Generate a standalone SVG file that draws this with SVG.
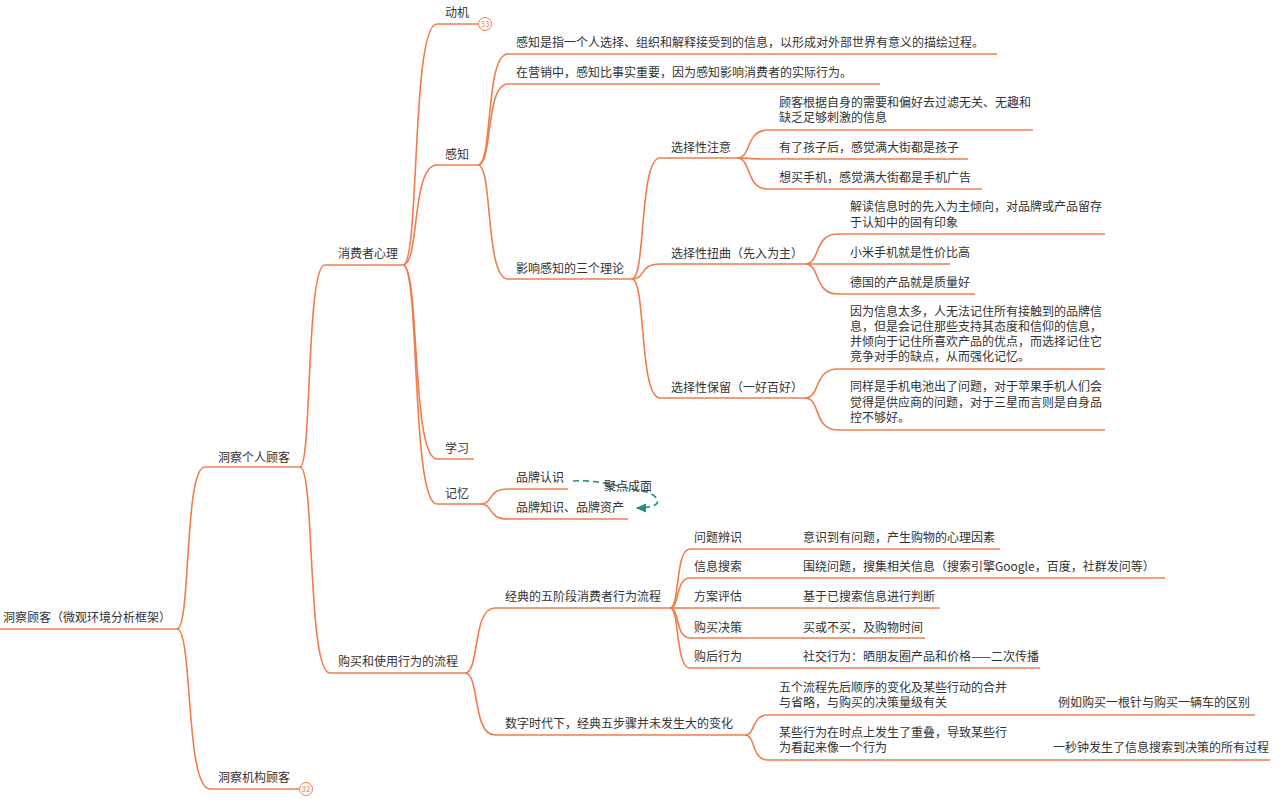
<svg xmlns="http://www.w3.org/2000/svg" width="1280" height="811" viewBox="0 0 1280 811">
<style>
text{font-family:"Noto Sans CJK SC","Liberation Sans",sans-serif;font-size:12px;fill:#333}
.l{stroke:#ef7d4f;stroke-width:1.6;fill:none}
.b{fill:#fff;stroke:#ef7d4f;stroke-width:1}
.bt{font-size:8px;fill:#ef7d4f;text-anchor:middle}
.d{stroke:#1f8f7e;stroke-width:1.6;fill:none;stroke-dasharray:6 4}
</style>
<defs><marker id="ah" viewBox="0 0 10 10" refX="8" refY="5" markerWidth="7" markerHeight="7" orient="auto"><path d="M0,1 L9,5 L0,9 z" fill="#1f8f7e"/></marker></defs>
<rect width="1280" height="811" fill="#fff"/>
<g id="connectors">
<path class="l" d="M177,629 C191,629 184,467 205,467"/>
<path class="l" d="M177,629 C193,629 185,789 210,789"/>
<path class="l" d="M300,467 C312,467 306,265 325,265"/>
<path class="l" d="M300,467 C315,467 307,673 330,673"/>
<path class="l" d="M403,265 C420,265 411,24 437,24"/>
<path class="l" d="M403,265 C420,265 411,165 437,165"/>
<path class="l" d="M403,265 C420,265 411,459 437,459"/>
<path class="l" d="M403,265 C420,265 411,504 437,504"/>
<path class="l" d="M478,165 C493,165 485,54 508,54"/>
<path class="l" d="M478,165 C493,165 485,84 508,84"/>
<path class="l" d="M478,165 C493,165 485,279 508,279"/>
<path class="l" d="M632,279 C646,279 639,158 660,158"/>
<path class="l" d="M632,279 C646,279 639,264 660,264"/>
<path class="l" d="M632,279 C646,279 639,398 660,398"/>
<path class="l" d="M737,158 C752,158 745,130 768,130"/>
<path class="l" d="M737,158 C752,158 745,159 768,159"/>
<path class="l" d="M737,158 C752,158 745,189 768,189"/>
<path class="l" d="M805,264 C821,264 813,234 838,234"/>
<path class="l" d="M805,264 L838,264"/>
<path class="l" d="M805,264 C821,264 813,294 838,294"/>
<path class="l" d="M805,398 C821,398 813,369 838,369"/>
<path class="l" d="M805,398 C821,398 813,430 838,430"/>
<path class="l" d="M480,504 C494,504 487,489 508,489"/>
<path class="l" d="M480,504 C494,504 487,519 508,519"/>
<path class="l" d="M465,673 C480,673 472,608 495,608"/>
<path class="l" d="M465,673 C480,673 472,735 495,735"/>
<path class="l" d="M670,608 C680,608 675,549 690,549"/>
<path class="l" d="M670,608 C680,608 675,578 690,578"/>
<path class="l" d="M670,608 L690,608"/>
<path class="l" d="M670,608 C680,608 675,638 690,638"/>
<path class="l" d="M670,608 C680,608 675,668 690,668"/>
<path class="l" d="M745,735 C756,735 751,715 768,715"/>
<path class="l" d="M745,735 C756,735 751,760 768,760"/>
<path class="d" d="M573,481 C600,479 625,489 648,492 C664,500 660,508 637,508" marker-end="url(#ah)"/>
</g>
<g id="root"><text x="3" y="622">洞察顾客（微观环境分析框架）</text><path class="l" d="M0,629 H177"/></g>
<g id="n-geren"><text x="218" y="462">洞察个人顾客</text><path class="l" d="M205,467 H300"/></g>
<g id="n-jigou"><text x="218" y="782">洞察机构顾客</text><path class="l" d="M210,789 H300"/><circle class="b" cx="306" cy="789" r="6.5"/><text class="bt" x="306" y="792">32</text></g>
<g id="n-xinli"><text x="338" y="258">消费者心理</text><path class="l" d="M325,265 H403"/></g>
<g id="n-goumai"><text x="338" y="666">购买和使用行为的流程</text><path class="l" d="M330,673 H465"/></g>
<g id="n-dongji"><text x="445" y="17">动机</text><path class="l" d="M437,24 H478"/><circle class="b" cx="485" cy="24" r="6.5"/><text class="bt" x="485" y="27">33</text></g>
<g id="n-ganzhi"><text x="445" y="159">感知</text><path class="l" d="M437,165 H478"/></g>
<g id="n-xuexi"><text x="445" y="453">学习</text><path class="l" d="M437,459 H474"/></g>
<g id="n-jiyi"><text x="445" y="498">记忆</text><path class="l" d="M437,504 H480"/></g>
<g id="n-g1"><text x="516" y="47">感知是指一个人选择、组织和解释接受到的信息，以形成对外部世界有意义的描绘过程。</text><path class="l" d="M508,54 H997"/></g>
<g id="n-g2"><text x="516" y="77">在营销中，感知比事实重要，因为感知影响消费者的实际行为。</text><path class="l" d="M508,84 H880"/></g>
<g id="n-g3"><text x="516" y="273">影响感知的三个理论</text><path class="l" d="M508,279 H632"/></g>
<g id="n-zhuyi"><text x="671" y="152">选择性注意</text><path class="l" d="M660,158 H737"/></g>
<g id="n-niuqu"><text x="671" y="258">选择性扭曲（先入为主）</text><path class="l" d="M660,264 H805"/></g>
<g id="n-baoliu"><text x="671" y="392">选择性保留（一好百好）</text><path class="l" d="M660,398 H805"/></g>
<g id="n-z1"><text x="779" y="107">顾客根据自身的需要和偏好去过滤无关、无趣和</text><text x="779" y="122">缺乏足够刺激的信息</text><path class="l" d="M768,130 H1033"/></g>
<g id="n-z2"><text x="779" y="152">有了孩子后，感觉满大街都是孩子</text><path class="l" d="M768,159 H968"/></g>
<g id="n-z3"><text x="779" y="182">想买手机，感觉满大街都是手机广告</text><path class="l" d="M768,189 H982"/></g>
<g id="n-n1"><text x="850" y="211">解读信息时的先入为主倾向，对品牌或产品留存</text><text x="850" y="227">于认知中的固有印象</text><path class="l" d="M838,234 H1105"/></g>
<g id="n-n2"><text x="850" y="257">小米手机就是性价比高</text><path class="l" d="M838,264 H950"/></g>
<g id="n-n3"><text x="850" y="287">德国的产品就是质量好</text><path class="l" d="M838,294 H975"/></g>
<g id="n-b1"><text x="850" y="316">因为信息太多，人无法记住所有接触到的品牌信</text><text x="850" y="331">息，但是会记住那些支持其态度和信仰的信息，</text><text x="850" y="346">并倾向于记住所喜欢产品的优点，而选择记住它</text><text x="850" y="361">竞争对手的缺点，从而强化记忆。</text><path class="l" d="M838,369 H1105"/></g>
<g id="n-b2"><text x="850" y="391">同样是手机电池出了问题，对于苹果手机人们会</text><text x="850" y="407">觉得是供应商的问题，对于三星而言则是自身品</text><text x="850" y="422">控不够好。</text><path class="l" d="M838,430 H1105"/></g>
<g id="n-j1"><text x="516" y="482">品牌认识</text><path class="l" d="M508,489 H568"/></g>
<g id="n-j2"><text x="516" y="512">品牌知识、品牌资产</text><path class="l" d="M508,519 H628"/></g>
<text x="604" y="491">聚点成面</text>
<g id="n-wu"><text x="505" y="601">经典的五阶段消费者行为流程</text><path class="l" d="M495,608 H670"/></g>
<g id="n-shuzi"><text x="505" y="728">数字时代下，经典五步骤并未发生大的变化</text><path class="l" d="M495,735 H745"/></g>
<g id="n-s1"><text x="694" y="542">问题辨识</text><text x="803" y="542">意识到有问题，产生购物的心理因素</text><path class="l" d="M690,549 H1000"/></g>
<g id="n-s2"><text x="694" y="571">信息搜索</text><text x="803" y="571">围绕问题，搜集相关信息（搜索引擎Google，百度，社群发问等）</text><path class="l" d="M690,578 H1165"/></g>
<g id="n-s3"><text x="694" y="601">方案评估</text><text x="803" y="601">基于已搜索信息进行判断</text><path class="l" d="M690,608 H940"/></g>
<g id="n-s4"><text x="694" y="632">购买决策</text><text x="803" y="632">买或不买，及购物时间</text><path class="l" d="M690,638 H925"/></g>
<g id="n-s5"><text x="694" y="661">购后行为</text><text x="803" y="661">社交行为：晒朋友圈产品和价格——二次传播</text><path class="l" d="M690,668 H1040"/></g>
<g id="n-d1"><text x="779" y="692">五个流程先后顺序的变化及某些行动的合并</text><text x="779" y="707">与省略，与购买的决策量级有关</text><text x="1058" y="707">例如购买一根针与购买一辆车的区别</text><path class="l" d="M768,715 H1255"/></g>
<g id="n-d2"><text x="779" y="737">某些行为在时点上发生了重叠，导致某些行</text><text x="779" y="752">为看起来像一个行为</text><text x="1053" y="752">一秒钟发生了信息搜索到决策的所有过程</text><path class="l" d="M768,760 H1270"/></g>
</svg>
